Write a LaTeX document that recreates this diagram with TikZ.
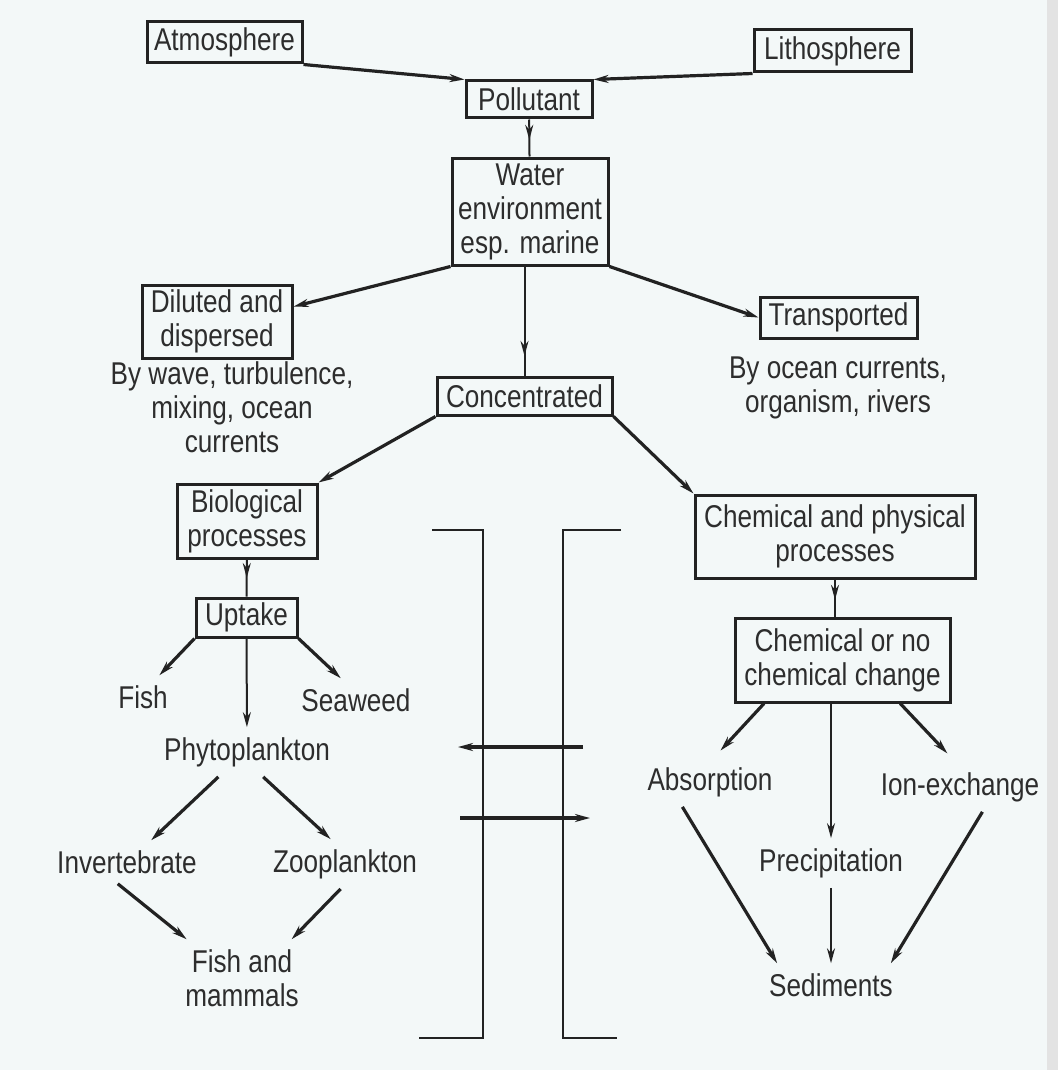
\documentclass[tikz,border=0pt]{standalone}
\usepackage{fontspec}
\setmainfont{Liberation Sans}[FakeStretch=0.83]
\usetikzlibrary{arrows.meta,decorations.markings}
\definecolor{paper}{RGB}{243,248,248}
\definecolor{ink}{RGB}{34,34,34}
\definecolor{txt}{RGB}{45,45,45}

\begin{document}
\begin{tikzpicture}[x=1pt,y=-1pt,
	every node/.style={font=\fontsize{31.5}{34}\selectfont,text=txt,align=center},
	box/.style={draw=ink,line width=3pt,inner sep=0pt},
	lbl/.style={inner sep=10pt},
	conn/.style={draw=ink,line width=3.2pt,-{Stealth[length=15pt,width=8pt]}},
	vconn/.style={draw=ink,line width=2pt,-{Stealth[length=15pt,width=8pt]}},
	midarrow/.style={draw=ink,line width=2pt,postaction={decorate},
		decoration={markings,mark=at position #1 with {\arrow{Stealth[length=15pt,width=8pt]}}}},
	bracket/.style={draw=ink,line width=2.2pt}]
	\fill[paper] (0,0) rectangle (1058,1070);
	\fill[gray!22] (1047,0) rectangle (1058,1070);
	\useasboundingbox (0,0) rectangle (1058,1070);
	% boxes
	\node[box,minimum width=155pt,minimum height=41pt] (atmo) at (224.5,42.5) {Atmosphere};
	\node[box,minimum width=157pt,minimum height=42pt] (litho) at (832.5,51) {Lithosphere};
	\node[box,minimum width=126pt,minimum height=37pt] (poll) at (529,99.5) {Pollutant};
	\node[box,minimum width=156pt,minimum height=107pt] (water) at (530,211.5) {Water\\environment\\esp. marine};
	\node[box,minimum width=150pt,minimum height=73pt] (dil) at (217,321.5) {Diluted and\\dispersed};
	\node[box,minimum width=157pt,minimum height=41pt] (trans) at (838.5,317.5) {Transported};
	\node[box,minimum width=175pt,minimum height=38pt] (conc) at (524.5,396) {Concentrated};
	\node[box,minimum width=140pt,minimum height=74pt] (bio) at (247,521) {Biological\\processes};
	\node[box,minimum width=280pt,minimum height=83pt] (chp) at (835,536.5) {Chemical and physical\\processes};
	\node[box,minimum width=101pt,minimum height=39pt] (upt) at (246.5,617.5) {Uptake};
	\node[box,minimum width=215pt,minimum height=84pt] (chg) at (842.5,660) {Chemical or no\\chemical change};
	% free texts
	\node (dilcap) at (232,407) {By wave, turbulence,\\mixing, ocean\\currents};
	\node (transcap) at (838,388) {By ocean currents,\\organism, rivers};
	\node[lbl] (fish) at (143,697) {Fish};
	\node[lbl] (weed) at (356,700) {Seaweed};
	\node[lbl] (phyto) at (247,752) {Phytoplankton};
	\node[lbl] (invert) at (127,862) {Invertebrate};
	\node[lbl] (zoo) at (345,864) {Zooplankton};
	\node[lbl] (fishmam) at (242,978) {Fish and\\mammals};
	\node[lbl] (absorp) at (710,782) {Absorption};
	\node[lbl] (ion) at (960,787) {Ion-exchange};
	\node[lbl] (precip) at (831,863) {Precipitation};
	\node[lbl] (sedi) at (831,985) {Sediments};
	% top part
	\draw[conn] (atmo.south east) -- (poll.north west);
	\draw[conn] (litho.south west) -- (poll.north east);
	\draw[midarrow=0.55] (poll) -- (water);
	\draw[conn] (water.south west) -- (dil.11);
	\draw[conn] (water.south east) -- (trans.west);
	\draw[midarrow=0.82] (conc.north |- water.south) -- (conc.north);
	\draw[conn] (conc.south west) -- (bio.north east);
	\draw[conn] (conc.south east) -- (chp.north west);
	% biological side
	\draw[midarrow=0.5] (bio) -- (upt);
	\draw[vconn] (upt) -- (phyto);
	\draw[conn] (upt.south west) -- (fish.53);
	\draw[conn] (upt.south east) -- (weed.125);
	\draw[conn] (phyto.221) -- (invert.42);
	\draw[conn] (phyto.-57) -- (zoo.120);
	\draw[conn] (invert.247) -- (fishmam.145);
	\draw[conn] (zoo.260) -- (fishmam.38);
	% chemical side
	\draw[midarrow=0.55] (chp.south) -- (chp.south |- chg.north);
	\draw[conn,shorten >=9pt] (chg.209) -- (absorp.80);
	\draw[vconn] (precip.north |- chg.south) -- (precip.north);
	\draw[conn,shorten >=12pt] (chg.-37) -- (ion.100);
	\draw[conn] (absorp.222) -- (sedi.158);
	\draw[vconn] (precip) -- (sedi);
	\draw[conn] (ion.-48) -- (sedi.20);
	% brackets
	\draw[bracket] (432,530) -- (483,530) -- (483,1038) -- (419,1038);
	\draw[bracket] (621,530) -- (563,530) -- (563,1038) -- (617,1038);
	\coordinate (upR) at (583,747);
	\coordinate (upL) at (458,747);
	\coordinate (loL) at (460,818);
	\coordinate (loR) at (590,818);
	\draw[conn] (upR) -- (upL);
	\draw[conn] (loL) -- (loR);
\end{tikzpicture}
\end{document}
